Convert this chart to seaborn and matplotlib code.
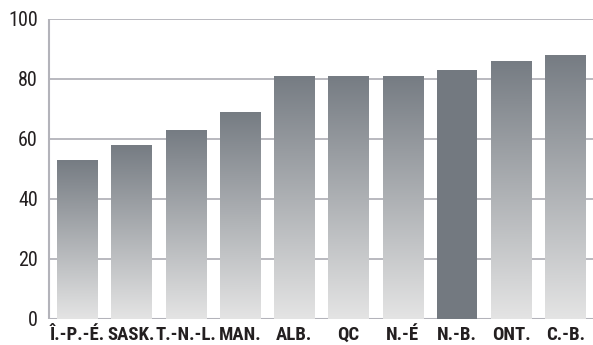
import numpy as np
import pandas as pd
import matplotlib
matplotlib.use("Agg")
import matplotlib.pyplot as plt
import seaborn as sns
from matplotlib import font_manager
from matplotlib.colors import LinearSegmentedColormap

# Provinces and their values
provinces = ["Î.-P.-É.", "SASK.", "T.-N.-L.", "MAN.", "ALB.", "QC", "N.-É", "N.-B.", "ONT.", "C.-B."]
values = [53, 58, 63, 69, 81, 81, 81, 83, 86, 88]
highlight = "N.-B."
y_ticks = [0, 20, 40, 60, 80, 100]

sns.set_theme(style="white")

# Use a narrow sans face; Roboto is the narrowest of the regular ones
names = {f.name for f in font_manager.fontManager.ttflist}
if "Roboto Condensed" in names:
    family = ["Roboto Condensed", "DejaVu Sans"]
    xsize, ysize = 13.5, 14.5
elif "Liberation Sans Narrow" in names:
    family = ["Liberation Sans Narrow", "DejaVu Sans"]
    xsize, ysize = 13.5, 14.5
else:
    family = ["Roboto", "DejaVu Sans"]
    xsize, ysize = 11.3, 14
plt.rcParams["font.family"] = family

df = pd.DataFrame({"province": provinces, "value": values})

fig = plt.figure(figsize=(5.93, 3.45), dpi=100)
ax = fig.add_axes([49 / 593, 26 / 345, 544 / 593, 300 / 345])

sns.barplot(data=df, x="province", y="value", ax=ax, width=0.74,
            color="#737980", saturation=1, zorder=2)

top_c = "#767c83"
bottom_c = "#e4e4e4"
cmap = LinearSegmentedColormap.from_list("bar_grad", [top_c, bottom_c])
grad = np.linspace(0, 1, 256).reshape(-1, 1)

for patch, name in zip(ax.patches, provinces):
    if name == highlight:
        patch.set_edgecolor("none")
        continue
    x0, y0 = patch.get_x(), patch.get_y()
    w, h = patch.get_width(), patch.get_height()
    patch.set_facecolor("none")
    patch.set_edgecolor("none")
    im = ax.imshow(grad, cmap=cmap, aspect="auto", origin="upper",
                   extent=[x0, x0 + w, y0, y0 + h], zorder=2,
                   interpolation="bilinear")
    im.set_clip_path(patch)

ax.set_xlim(-0.52, 9.51)
ax.set_ylim(0, 100)
ax.set_yticks(y_ticks)
ax.set_yticklabels([str(t) for t in y_ticks])

grid_c = "#b3b3ba"
for t in y_ticks[1:]:
    ax.axhline(t, color=grid_c, lw=1.3, zorder=1)
ax.axhline(0, color=grid_c, lw=2.2, zorder=1)

for side in ["top", "right", "bottom"]:
    ax.spines[side].set_visible(False)
ax.spines["left"].set_color(grid_c)
ax.spines["left"].set_linewidth(1.5)
ax.spines["left"].set_zorder(3)
ax.spines["left"].set_capstyle("butt")

ax.set_xlabel("")
ax.set_ylabel("")
ax.tick_params(axis="both", length=0, colors="#231f20")
ax.tick_params(axis="y", pad=8)
ax.tick_params(axis="x", pad=5)
for lab in ax.get_yticklabels():
    lab.set_fontsize(ysize)
    lab.set_color("#231f20")
for lab in ax.get_xticklabels():
    lab.set_fontsize(xsize)
    lab.set_fontweight("bold")
    lab.set_color("#231f20")

fig.savefig("out.png", dpi=100)
